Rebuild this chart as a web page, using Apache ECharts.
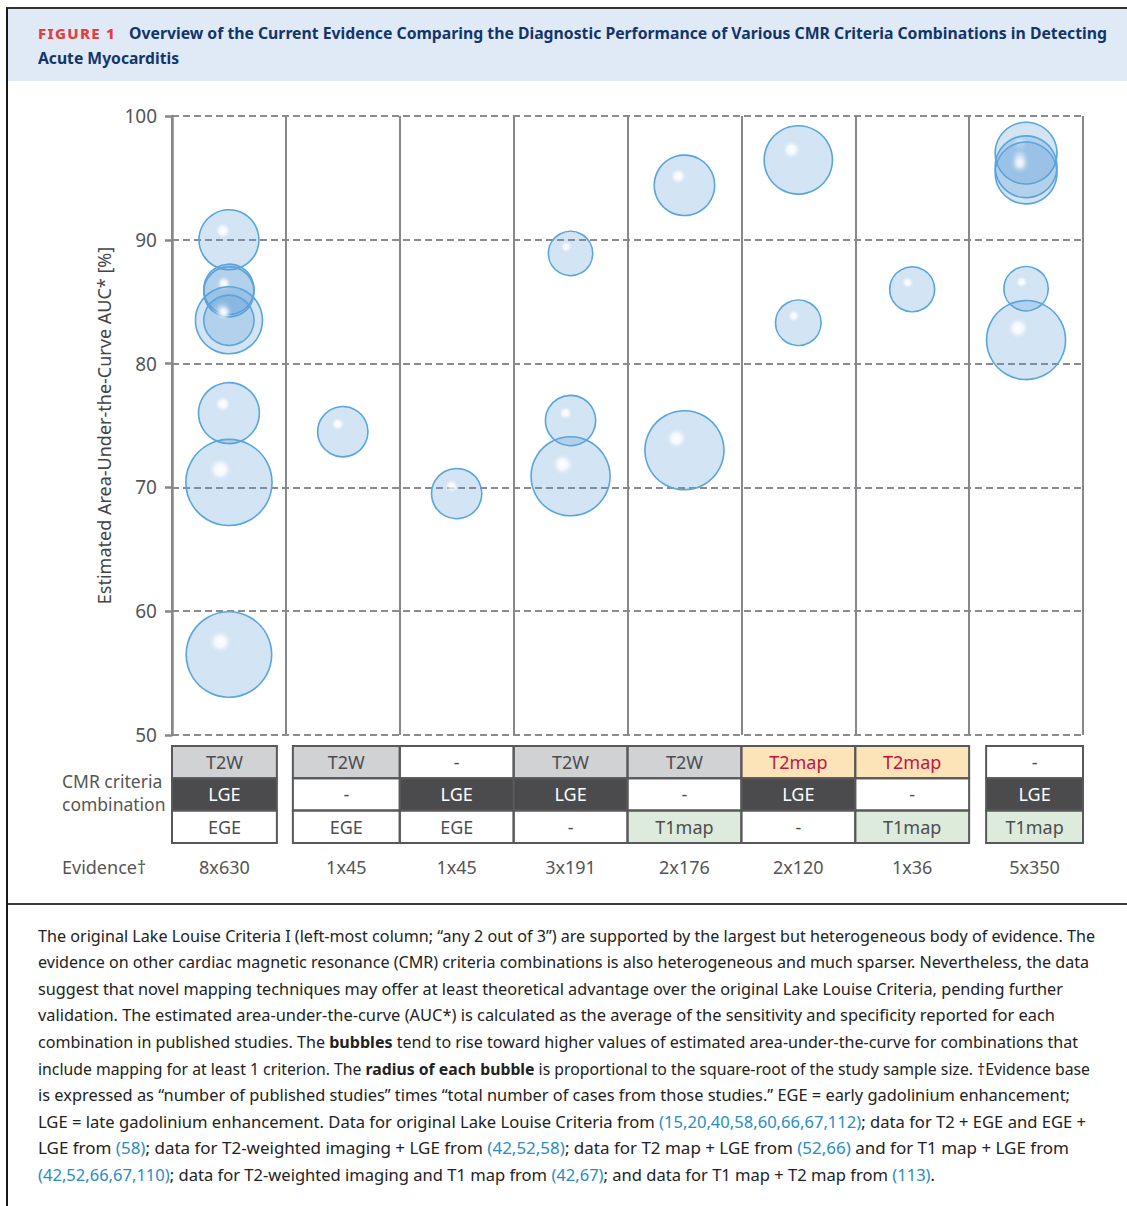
<!DOCTYPE html>
<html><head><meta charset="utf-8">
<script src="https://cdn.jsdelivr.net/npm/echarts@6/dist/echarts.min.js"></script>
<style>
html,body{margin:0;padding:0;background:#fff;}
body{width:1127px;height:1206px;position:relative;overflow:hidden;font-family:'Noto Sans',sans-serif;}
#frame{position:absolute;left:6px;top:7px;width:1121px;height:1199px;border-left:2px solid #1a1a1a;border-top:2px solid #333;box-sizing:border-box;}
#head{position:absolute;left:8px;top:9px;width:1119px;height:72px;background:#dfeaf6;}
.hl{position:absolute;white-space:nowrap;font-weight:700;color:#13356a;font-size:16px;line-height:25px;transform-origin:0 50%;}
.fig{color:#e53c3f;font-size:14.5px;letter-spacing:1.2px;font-weight:800;}
#sep{position:absolute;left:8px;top:903px;width:1119px;height:2px;background:#3a3a3a;}
.cl{position:absolute;left:38px;white-space:nowrap;font-size:15.5px;color:#222;line-height:26px;transform-origin:0 50%;}
.cl a{color:#2a8cc4;text-decoration:none}
#chart{position:absolute;left:0;top:0;width:1127px;height:1206px;z-index:2;}
</style>
</head>
<body>
<div id="frame"></div>
<div id="head"></div>
<div class="hl fig" style="left:38px;top:20.5px" data-w="78">FIGURE 1</div>
<div class="hl" style="left:129px;top:20.5px" data-w="978">Overview of the Current Evidence Comparing the Diagnostic Performance of Various CMR Criteria Combinations in Detecting</div>
<div class="hl" style="left:38px;top:45.5px" data-w="141">Acute Myocarditis</div>
<div id="sep"></div>
<div id="caption"></div>
<div id="chart"></div>
<script>
// ---- data ----
const columns = ['T2W+LGE+EGE', 'T2W+EGE', 'LGE+EGE', 'T2W+LGE', 'T2W+T1map', 'T2map+LGE', 'T2map+T1map', 'LGE+T1map'];
const topRow = ['T2W', 'T2W', '-', 'T2W', 'T2W', 'T2map', 'T2map', '-'];
const midRow = ['LGE', '-', 'LGE', 'LGE', '-', 'LGE', '-', 'LGE'];
const botRow = ['EGE', 'EGE', 'EGE', '-', 'T1map', '-', 'T1map', 'T1map'];
const evidence = ['8x630', '1x45', '1x45', '3x191', '2x176', '2x120', '1x36', '5x350'];
const studyColumn = [0, 0, 0, 0, 0, 0, 0, 0, 1, 2, 3, 3, 3, 4, 4, 5, 5, 6, 7, 7, 7, 7, 7];
const studyAUC = [90.0, 86.0, 85.8, 83.5, 83.5, 76.0, 70.4, 56.5, 74.5, 69.5, 88.9, 75.4, 70.9, 94.4, 73.0, 96.45, 83.3, 86.0, 97.0, 95.9, 95.4, 86.05, 81.9];
const studyN = [64, 45, 45, 80, 45, 66, 132, 130, 45, 45, 35, 45, 111, 65, 111, 83, 37, 36, 68, 68, 68, 35, 111];
const yMin = 50, yMax = 100, yStep = 10;
const yAxisTitle = 'Estimated Area-Under-the-Curve AUC* [%]';
const rowLabel = 'CMR criteria\ncombination';
const evidenceLabel = 'Evidence†';

// caption lines
const captionLines = [
 ['The original Lake Louise Criteria I (left-most column; “any 2 out of 3”) are supported by the largest but heterogeneous body of evidence. The', 1057],
 ['evidence on other cardiac magnetic resonance (CMR) criteria combinations is also heterogeneous and much sparser. Nevertheless, the data', 1051],
 ['suggest that novel mapping techniques may offer at least theoretical advantage over the original Lake Louise Criteria, pending further', 1025],
 ['validation. The estimated area-under-the-curve (AUC*) is calculated as the average of the sensitivity and specificity reported for each', 1017],
 ['combination in published studies. The <b>bubbles</b> tend to rise toward higher values of estimated area-under-the-curve for combinations that', 1040],
 ['include mapping for at least 1 criterion. The <b>radius of each bubble</b> is proportional to the square-root of the study sample size. †Evidence base', 1052],
 ['is expressed as “number of published studies” times “total number of cases from those studies.” EGE = early gadolinium enhancement;', 1032],
 ['LGE = late gadolinium enhancement. Data for original Lake Louise Criteria from <a>(15,20,40,58,60,66,67,112)</a>; data for T2 + EGE and EGE +', 1048],
 ['LGE from <a>(58)</a>; data for T2-weighted imaging + LGE from <a>(42,52,58)</a>; data for T2 map + LGE from <a>(52,66)</a> and for T1 map + LGE from', 1031],
 ['<a>(42,52,66,67,110)</a>; data for T2-weighted imaging and T1 map from <a>(42,67)</a>; and data for T1 map + T2 map from <a>(113)</a>.', 897]
];
const cap = document.getElementById('caption');
captionLines.forEach((l, k) => {
  const d = document.createElement('div');
  d.className = 'cl';
  d.style.top = (922.8 + k * 26.55) + 'px';
  d.setAttribute('data-w', l[1]);
  d.innerHTML = l[0];
  cap.appendChild(d);
});
function fit() {
  document.querySelectorAll('[data-w]').forEach(el => {
    el.style.transform = 'none';
    const w = el.getBoundingClientRect().width;
    const t = +el.getAttribute('data-w');
    if (w > 0) el.style.transform = 'scaleX(' + (t / w) + ')';
  });
}
fit();
if (document.fonts && document.fonts.ready) document.fonts.ready.then(fit);

// ---- chart ----
const chart = echarts.init(document.getElementById('chart'), null, {renderer: 'svg'});
const axisGrey = '#88878c';
const font = 'Noto Sans';
chart.setOption({
  animation: false,
  textStyle: {fontFamily: font},
  grid: {left: 172, right: 44, top: 116, bottom: 471},
  xAxis: {
    type: 'value', min: 0, max: columns.length, interval: 1,
    axisLine: {show: false}, axisTick: {show: false}, axisLabel: {show: false},
    splitLine: {show: true, lineStyle: {color: axisGrey, width: 2, type: 'solid'}}
  },
  yAxis: {
    type: 'value', min: yMin, max: yMax, interval: yStep,
    name: yAxisTitle, nameLocation: 'middle', nameGap: 59,
    nameTextStyle: {fontSize: 18, color: '#444', fontFamily: font},
    axisLine: {show: true, lineStyle: {color: axisGrey, width: 2.5}},
    axisTick: {show: true, length: 7, lineStyle: {color: axisGrey, width: 2.5}},
    axisLabel: {fontSize: 19, color: '#555', margin: 15, fontFamily: font},
    splitLine: {show: true, lineStyle: {color: '#8c8b90', width: 1.8, type: [7, 4]}}
  },
  series: [{
    type: 'scatter',
    data: studyColumn.map((c, i) => [c + 0.5, studyAUC[i], studyN[i]]),
    symbol: 'circle',
    symbolSize: d => 7.5 * Math.sqrt(d[2]),
    itemStyle: {
      color: {
        type: 'radial', x: 0.4, y: 0.35, r: 0.5,
        colorStops: [
          {offset: 0, color: 'rgba(255,255,255,0.95)'},
          {offset: 0.12, color: 'rgba(240,246,252,0.6)'},
          {offset: 0.32, color: 'rgba(91,155,213,0.27)'},
          {offset: 1, color: 'rgba(91,155,213,0.27)'}
        ]
      },
      borderColor: '#5aa5dc', borderWidth: 1.6, opacity: 1
    },
    emphasis: {disabled: true},
    z: 5
  }]
});

// ---- table below the chart, placed from the axis scale ----
const cellStyle = {
  'T2W': {fill: '#d1d2d4', text: '#4d4d4f'},
  'LGE': {fill: '#4b4b4d', text: '#ffffff'},
  'EGE': {fill: '#ffffff', text: '#4d4d4f'},
  '-': {fill: '#ffffff', text: '#4d4d4f'},
  'T1map': {fill: '#dcebdc', text: '#4d4d4f'},
  'T2map': {fill: '#fde3b8', text: '#c4123f'}
};
const leftInset = [0, 7, 0, 0, 0, 0, 0, 17];
const rightInset = [9, 0, 0, 0, 0, 0, 0, 0];
function drawTable() {
  const p = i => chart.convertToPixel({gridIndex: 0}, [i, yMin]);
  const base = p(0)[1];
  const tTop = base + 11, rowH = 32.3;
  const els = [];
  const strokes = [];
  const rows = [topRow, midRow, botRow];
  columns.forEach((c, i) => {
    const l = p(i)[0] + leftInset[i];
    const r = p(i + 1)[0] - rightInset[i];
    const cx = (l + r) / 2;
    rows.forEach((row, k) => {
      const st = cellStyle[row[i]];
      const y = tTop + k * rowH;
      els.push({type: 'rect', shape: {x: l, y: y, width: r - l, height: rowH}, style: {fill: st.fill}, z: 10});
      strokes.push({type: 'rect', shape: {x: l, y: y, width: r - l, height: rowH}, style: {fill: 'none', stroke: '#58585a', lineWidth: 2}, z: 11});
      els.push({type: 'text', z: 12, style: {text: row[i], x: cx, y: y + rowH / 2, fill: st.text, font: '18px "Noto Sans"', textAlign: 'center', align: 'center', textVerticalAlign: 'middle', verticalAlign: 'middle'}});
    });
    els.push({type: 'text', z: 12, style: {text: evidence[i], x: cx, y: base + 132, fill: '#555', font: '18px "Noto Sans"', textAlign: 'center', align: 'center', textVerticalAlign: 'middle', verticalAlign: 'middle'}});
  });
  els.push({type: 'text', z: 12, style: {text: rowLabel, x: 62, y: base + 57.5, fill: '#555', font: '17.5px "Noto Sans"', lineHeight: 23, textAlign: 'left', align: 'left', textVerticalAlign: 'middle', verticalAlign: 'middle'}});
  els.push({type: 'text', z: 12, style: {text: evidenceLabel, x: 62, y: base + 132, fill: '#555', font: '18px "Noto Sans"', textAlign: 'left', align: 'left', textVerticalAlign: 'middle', verticalAlign: 'middle'}});
  chart.setOption({graphic: {elements: els.concat(strokes)}});
}
drawTable();
</script>
</body></html>
